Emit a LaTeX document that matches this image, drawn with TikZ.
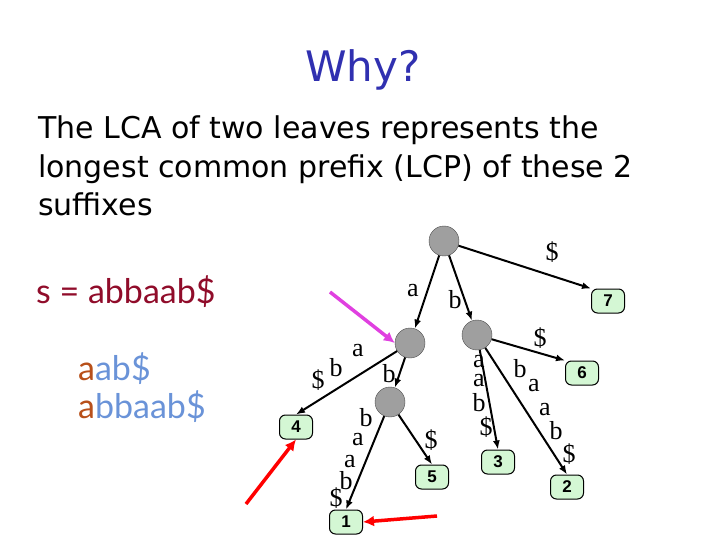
\documentclass[tikz,border=0pt]{standalone}
\usepackage{fontspec}
\usetikzlibrary{arrows.meta}
\setmainfont{Liberation Serif}
\newfontfamily\ttl{DejaVu Sans}
\newfontfamily\cms{Lato}
\newfontfamily\lfont{Liberation Sans}
\definecolor{ttblue}{HTML}{3030B0}
\definecolor{dred}{HTML}{900C2A}
\definecolor{sblue}{HTML}{6A93D8}
\definecolor{sorg}{HTML}{B8501A}
\definecolor{leafg}{HTML}{D4F7D4}
\definecolor{magen}{HTML}{E040E0}
\tikzset{
 inner/.style={circle,fill=gray!75,draw=gray!60!black,minimum size=30pt,inner sep=0},
 leaf/.style={rounded corners=6pt,fill=leafg,draw=black,line width=1pt,minimum width=33pt,minimum height=24pt,inner sep=0,font=\lfont\bfseries\fontsize{17}{17}\selectfont},
 edge/.style={-{Latex[length=9pt,width=7pt]},line width=2pt},
 lab/.style={font=\fontsize{26}{26}\selectfont,inner sep=0},
 hint/.style={-{Latex[length=11pt,width=11pt]},line width=3.5pt}
}
\begin{document}
\begin{tikzpicture}[x=1pt,y=-1pt]
\useasboundingbox (0,0) rectangle (720,540);
\node[font=\ttl\fontsize{42}{42}\selectfont,text=ttblue] (title) at (363,70) {Why?};
\node[anchor=north west,align=left,inner sep=0,font=\ttl\fontsize{30}{38.5}\selectfont] (para) at (38,116) {The LCA of two leaves represents the\\longest common prefix (LCP) of these 2\\suffixes};
\node[anchor=west,inner sep=0,font=\cms\fontsize{34}{34}\selectfont,text=dred] (s) at (36,292) {s = abbaab\$};
\node[anchor=west,inner sep=0,font=\cms\fontsize{34}{34}\selectfont] (s1) at (78,369) {\color{sorg}a\color{sblue}ab\$};
\node[anchor=west,inner sep=0,font=\cms\fontsize{34}{34}\selectfont] (s2) at (78,407) {\color{sorg}a\color{sblue}bbaab\$};

\node[inner] (r) at (444,241) {};
\node[inner] (n1) at (410,343) {};
\node[inner] (n2) at (477,335) {};
\node[inner] (n3) at (390,402) {};
\node[leaf] (l4) at (296,427) {4};
\node[leaf] (l1) at (346,522) {1};
\node[leaf] (l5) at (432,477) {5};
\node[leaf] (l3) at (498,462) {3};
\node[leaf] (l2) at (567,487) {2};
\node[leaf] (l6) at (582,373) {6};
\node[leaf] (l7) at (608,301) {7};

\draw[edge] (r) -- (l7.north west);
\draw[edge] (r) -- (n1);
\draw[edge] (r) -- (n2);
\draw[edge] (n1) -- (l4.north);
\draw[edge] (n1) -- (n3);
\draw[edge] (n3) -- (l1.north);
\draw[edge] (n3) -- (l5.north);
\draw[edge] (n2) -- (l3.north);
\draw[edge] (n2) -- (l2.north);
\draw[edge] (n2) -- (l6.north west);

\node[lab] (e7) at (552,252) {\$};
\node[lab] (ea) at (413,291) {a};
\node[lab] (eb) at (455,300) {b};
\node[lab] (e6) at (540,338) {\$};
\node[lab] (e4a) at (358,351) {a};
\node[lab] (e4b) at (336,368) {b};
\node[lab] (e4d) at (318,380) {\$};
\node[lab] (e3b) at (389,374) {b};
\node[lab] (e5) at (431,440) {\$};
\node[lab] (e1) at (366,418) {b};
\node[lab] (e1a) at (358,440) {a};
\node[lab] (e1c) at (350,462) {a};
\node[lab] (e1d) at (346,481) {b};
\node[lab] (e1e) at (336,498) {\$};
\node[lab] (e3a) at (479,362) {a};
\node[lab] (e3c) at (479,381) {a};
\node[lab] (e3d) at (479,403) {b};
\node[lab] (e3e) at (486,427) {\$};
\node[lab] (e2a) at (520,369) {b};
\node[lab] (e2b) at (534,386) {a};
\node[lab] (e2c) at (545,410) {a};
\node[lab] (e2d) at (556,431) {b};
\node[lab] (e2e) at (569,454) {\$};

\coordinate (m0) at (330,292);
\draw[hint,magen] (m0) -- (n1.west);
\coordinate (ra) at (246,504);
\draw[hint,red] (ra) -- (l4.south);
\coordinate (rb) at (437,516);
\draw[hint,red] (rb) -- (l1.east);
\end{tikzpicture}
\end{document}
